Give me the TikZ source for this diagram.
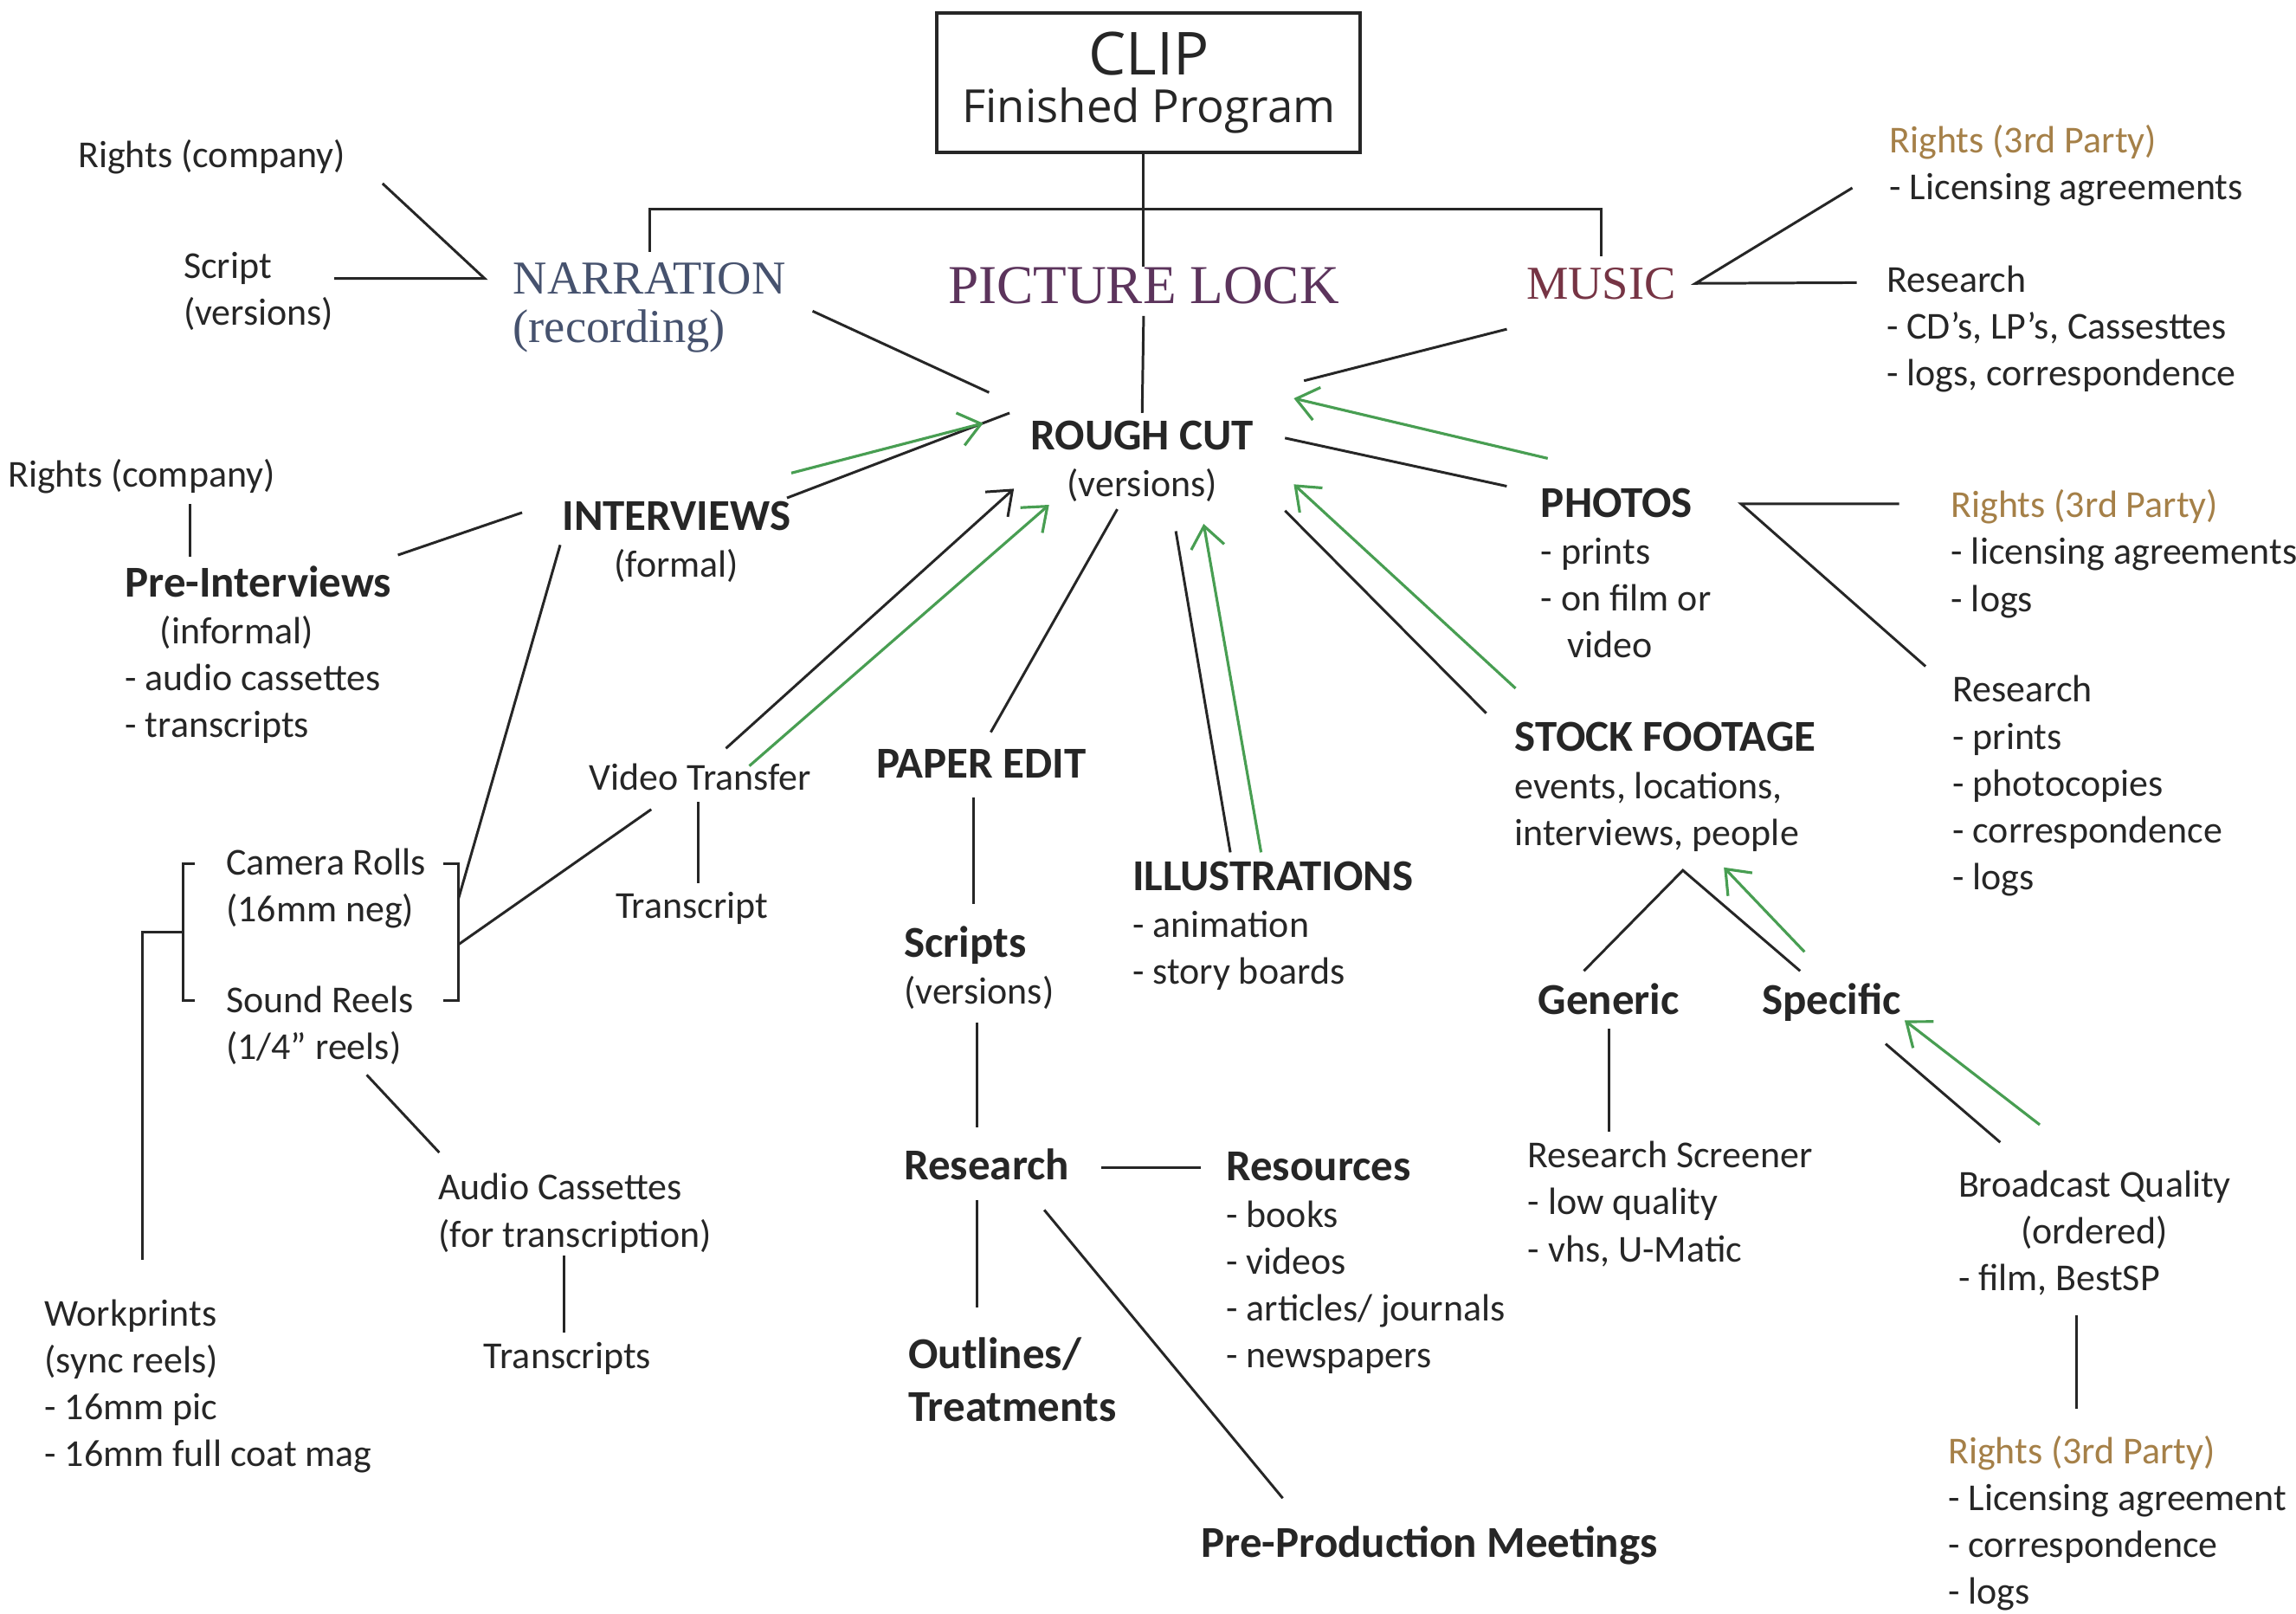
\documentclass[tikz,border=0pt]{standalone}
\usepackage{fontspec}
\setmainfont{Carlito}
\newfontfamily\clipfont{Open Sans}
\newfontfamily\serifhead{Liberation Serif}
\usetikzlibrary{arrows.meta,calc}
\definecolor{inkgray}{RGB}{38,38,38}
\definecolor{feedgreen}{RGB}{72,158,82}
\definecolor{thirdparty}{RGB}{165,128,72}
\definecolor{narrcol}{RGB}{70,82,110}
\definecolor{lockcol}{RGB}{92,52,92}
\definecolor{musiccol}{RGB}{118,52,68}
\tikzstyle{plain}=[inner sep=0pt,anchor=north west,align=left,text=inkgray,font=\fontsize{12.5}{15.4}\selectfont]
\tikzstyle{heading}=[plain,font=\bfseries\fontsize{14.5}{17.3}\selectfont]
\tikzstyle{serifnode}=[inner sep=0pt,anchor=base west,font=\serifhead\fontsize{15.5}{18}\selectfont]
\tikzstyle{link}=[draw=inkgray,line width=0.85pt]
\tikzstyle{linkarrow}=[link,-{Straight Barb[length=7pt,width=11pt]}]
\tikzstyle{feed}=[draw=feedgreen,line width=0.9pt,-{Straight Barb[length=7pt,width=11pt]}]
\newcommand{\hd}[1]{{\bfseries\fontsize{14.5}{17.3}\selectfont #1}}
\newcommand{\thirdp}{{\color{thirdparty}Rights (3rd Party)}}

\begin{document}
\begin{tikzpicture}[x=0.16913mm,y=-0.16913mm]
\useasboundingbox (0,0) rectangle (1568,1102);

% finished program and the three tracks
\node[draw=inkgray,line width=1.1pt,minimum width=48.9mm,minimum height=16.1mm,align=center,text=inkgray,font=\clipfont\fontsize{15}{15.5}\selectfont] (clip) at (784.5,56.5) {{\fontsize{19.5}{19.5}\selectfont CLIP}\\Finished Program};
\node[serifnode,text=narrcol] (narr) at (350,200.7) {NARRATION};
\node[serifnode,text=narrcol] (narrsub) at (350,234) {(recording)};
\node[serifnode,anchor=base,text=lockcol,font=\serifhead\fontsize{18}{20}\selectfont] (lock) at (781,207) {PICTURE LOCK};
\node[serifnode,anchor=base,text=musiccol] (music) at (1093.5,204) {MUSIC};

\node[plain] (rightsco) at (53,95) {Rights (company)};
\node[plain] (script) at (125,172) {Script\\(versions)};
\node[plain] (rights1) at (1290,85) {\thirdp\\- Licensing agreements};
\node[plain] (research1) at (1288,181) {Research\\- CD’s, LP’s, Cassesttes\\- logs, correspondence};

\node[plain,anchor=north,align=center] (rough) at (780,287) {\hd{ROUGH CUT}\\(versions)};

% interviews side
\node[plain] (rightsco2) at (5,313) {Rights (company)};
\node[plain] (preint) at (85,386) {\hd{Pre-Interviews}\\\hspace*{11.5pt}(informal)\\- audio cassettes\\- transcripts};
\node[plain,anchor=north,align=center] (interviews) at (462,342) {\hd{INTERVIEWS}\\(formal)};
\node[plain] (vidtrans) at (402,521) {Video Transfer};
\node[plain] (transcript) at (420,609) {Transcript};
\node[plain] (camrolls) at (154,579) {Camera Rolls\\(16mm neg)};
\node[plain] (soundreels) at (154,673) {Sound Reels\\(1/4” reels)};
\node[plain] (audiocas) at (299,801) {Audio Cassettes\\(for transcription)};
\node[plain] (transcripts) at (330,916) {Transcripts};
\node[plain] (workprints) at (30,887) {Workprints\\(sync reels)\\- 16mm pic\\- 16mm full coat mag};

% paper edit column
\node[heading] (paperedit) at (598,511) {PAPER EDIT};
\node[plain] (scripts) at (617,632) {\hd{Scripts}\\(versions)};
\node[heading] (research) at (617,784) {Research};
\node[plain] (resources) at (837,786) {\hd{Resources}\\- books\\- videos\\- articles/ journals\\- newspapers};
\node[heading] (outlines) at (620,913) {Outlines/\\Treatments};
\node[heading] (premeet) at (820,1042) {Pre-Production Meetings};
\node[plain] (illus) at (773,588) {\hd{ILLUSTRATIONS}\\- animation\\- story boards};

% photos and stock footage
\node[plain] (photos) at (1052,333) {\hd{PHOTOS}\\- prints\\- on film or\\\hspace*{8.6pt}video};
\node[plain] (rights2) at (1332,334) {\thirdp\\- licensing agreements\\- logs};
\node[plain] (research2) at (1333,461) {Research\\- prints\\- photocopies\\- correspondence\\- logs};
\node[plain] (stock) at (1034,493) {\hd{STOCK FOOTAGE}\\events, locations,\\interviews, people};
\node[heading] (generic) at (1050,671) {Generic};
\node[heading] (specific) at (1203,671) {Specific};
\node[plain] (screener) at (1043,779) {Research Screener\\- low quality\\- vhs, U-Matic};
\node[plain] (broadcast) at (1337,799) {Broadcast Quality\\\hspace*{20.6pt}(ordered)\\- film, BestSP};
\node[plain] (rights3) at (1330,980) {\thirdp\\- Licensing agreement\\- correspondence\\- logs};

\coordinate (narrjoin) at ($(narr.west)+(-19,0)$);
\coordinate (brTR) at ($(camrolls.north east)+(22,11)$);
\coordinate (brBR) at ($(brTR |- soundreels.north)+(0,10)$);
\coordinate (brTL) at ($(camrolls.north west)+(-29,11)$);
\coordinate (brBL) at ($(brTL |- soundreels.north)+(0,10)$);

% tree lines at the top
\draw[link] (lock.north |- clip.south) -- (lock.north);
\draw[link] ($(narr.north)+(0,-7)$) -- ++(0,-29) -| ($(music.north)+(0,-7)$);
\draw[link] ($(rightsco.south east)+(25,6)$) -- (narrjoin) -- (narrjoin -| script.east);
\draw[link] ($(narr.south east)+(18,11)$) -- ($(rough.north west)+(-28,-19)$);
\draw[link] ($(lock.south)+(0,8)$) -- ($(rough.north)+(0,-5)$);
\draw[link] ($(music.south west)+(-13,20)$) -- ($(rough.north east)+(34,-27)$);
\draw[link] ($(rights1.south west)+(-25,-13)$) -- ($(music.east)+(13,0)$) -- ($(research1.north west)+(-20,12)$);

% interviews
\draw[link] ($(rightsco2.south)+(33,7)$) -- ($(rightsco2.south |- preint.north)+(33,-6)$);
\draw[link] ($(preint.north east)+(4,-7)$) -- ($(interviews.north west)+(-27,8)$);
\draw[link] ($(interviews.north east)+(-3,-2)$) -- ($(rough.north west)+(-14,-5)$);
\draw[feed] ($(interviews.north east)+(0,-19)$) -- ($(rough.north west)+(-32,2)$);
\draw[link] ($(interviews.west)+(-1,2)$) -- ($(brTR)+(0,24)$);
\draw[link] ($(vidtrans.south)+(-33.5,12.6)$) -- ($(brTR)+(0,55)$);
\draw[link] ($(vidtrans.south)+(-1.5,7.6)$) -- ($(vidtrans.south |- transcript.north)+(-1.5,-6)$);
\draw[linkarrow] ($(vidtrans.north)+(17.5,-10)$) -- ($(rough.south west)+(-11,-9.5)$);
\draw[feed] ($(vidtrans.north)+(33.5,2)$) -- ($(rough.south west)+(13,1.5)$);
\draw[link] ($(brTR)+(-10,0)$) -- (brTR) -- (brBR) -- ($(brBR)+(-10,0)$);
\draw[link] ($(brTL)+(8,0)$) -- (brTL) -- (brBL) -- ($(brBL)+(8,0)$);
\draw[link] ($(brTL)!0.5!(brBL)$) -| ($(workprints.north west)+(67,-27)$);
\draw[link] ($(soundreels.south)+(32,6.5)$) -- ($(audiocas.north west)+(1,-14)$);
\draw[link] ($(audiocas.south)+(-7.5,1.5)$) -- ($(audiocas.south |- transcripts.north)+(-7.5,-6)$);

% paper edit
\draw[link] ($(paperedit.north)+(6.5,-11)$) -- ($(rough.south)+(-17,4.5)$);
\draw[link] ($(paperedit.south)+(-5.5,13)$) -- ($(paperedit.south |- scripts.north)+(-5.5,-15)$);
\draw[link] ($(scripts.south)+(-1.5,8.5)$) -- ($(scripts.south |- research.north)+(-1.5,-14)$);
\draw[link] ($(research.east)+(21.5,2)$) -- ($(research.east -| resources.west)+(-17,2)$);
\draw[link] ($(research.south)+(-6.75,13)$) -- ($(research.south |- outlines.north)+(-6.75,-20)$);
\draw[link] ($(research.south east)+(-17.5,20)$) -- ($(premeet.north west)+(56,-19)$);
\draw[link] ($(illus.north)+(-29,-6)$) -- ($(rough.south)+(23,19.5)$);
\draw[feed] ($(illus.north)+(-8,-6)$) -- ($(rough.south)+(42,14.5)$);

% photos and stock footage
\draw[link] ($(photos.north west)+(-23,-1)$) -- ($(rough.east)+(21,-16)$);
\draw[feed] ($(photos.north west)+(5,-20)$) -- ($(rough.north east)+(27,-15)$);
\draw[link] ($(rights2.north west)+(-35,10)$) -- ($(photos.north east)+(20,11)$) -- ($(research2.north west)+(-18,-6)$);
\draw[link] ($(stock.north west)+(-19,-6)$) -- ($(rough.south east)+(21,5.5)$);
\draw[feed] ($(stock.north west)+(1,-23)$) -- ($(rough.south east)+(27,-12.5)$);
\draw[link] ($(generic.north)+(-17,-8)$) -- ($(stock.south)+(12,12.5)$) -- ($(specific.north)+(-21.5,-8)$);
\draw[feed] ($(specific.north)+(-18.5,-21)$) -- ($(stock.south)+(40,10.5)$);
\draw[link] ($(generic.south)+(0,9)$) -- ($(generic.south |- screener.north)+(0,-6)$);
\draw[link] ($(specific.south east)+(-11,15)$) -- ($(broadcast.north)+(-64.5,-19)$);
\draw[feed] ($(broadcast.north)+(-37.5,-31)$) -- ($(specific.south east)+(2,-1)$);
\draw[link] ($(broadcast.south)+(-12.5,13)$) -- ($(broadcast.south |- rights3.north)+(-12.5,-18)$);

\end{tikzpicture}
\end{document}
